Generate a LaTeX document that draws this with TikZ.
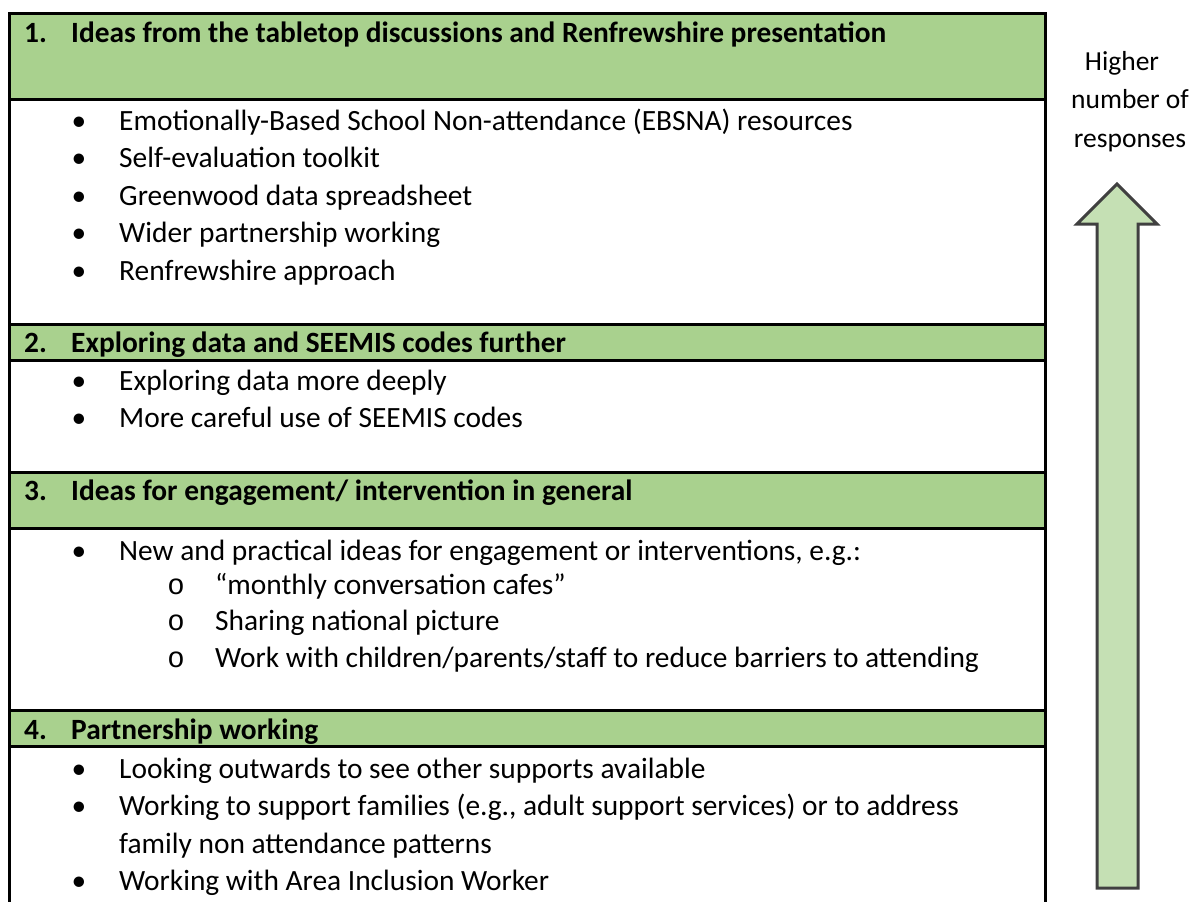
\documentclass[tikz,border=0pt]{standalone}
\usepackage{fontspec}
\setmainfont{Carlito}
\newfontfamily\subbulletfont{Liberation Mono}
\definecolor{hdrgreen}{HTML}{A9D18E}
\definecolor{arrowgreen}{HTML}{C5E0B4}
\definecolor{arrowline}{HTML}{404040}
\begin{document}
\begin{tikzpicture}[x=1pt,y=-1pt,
  txt/.style={anchor=base west, inner sep=0pt, font=\fontsize{29.4}{36}\selectfont},
  hdtxt/.style={anchor=base west, inner sep=0pt, font=\fontsize{29.4}{36}\selectfont\bfseries},
  bul/.style={anchor=base, inner sep=0pt, font=\fontsize{29.4}{36}\selectfont},
  subbul/.style={anchor=base, inner sep=0pt, font=\fontsize{29}{36}\subbulletfont},
  sidetxt/.style={anchor=base, inner sep=0pt, font=\fontsize{27.5}{34}\selectfont},
  hdrfill/.style={fill=hdrgreen},
  rulestyle/.style={line width=3pt, black},
  bigarrow/.style={fill=arrowgreen, draw=arrowline, line width=3pt, line join=miter}]
\useasboundingbox (0,0) rectangle (1189,902);
% header fills
\fill[hdrfill] (9,13) rectangle (1045,99);
\fill[hdrfill] (9,324) rectangle (1045,360);
\fill[hdrfill] (9,472) rectangle (1045,528);
\fill[hdrfill] (9,710) rectangle (1045,746);
% table rules
\draw[rulestyle] (9,905) -- (9,13) -- (1045.5,13) -- (1045.5,905);
\foreach \yy in {99,324,360,472,528,710,746} \draw[rulestyle] (9,\yy) -- (1045.5,\yy);
% section 1
\node[hdtxt] (h1n) at (24,42) {1.};
\node[hdtxt] (h1) at (71,42) {Ideas from the tabletop discussions and Renfrewshire presentation};
\node[bul] (b11) at (79,130) {•};
\node[txt] (t11) at (119,130) {Emotionally-Based School Non-attendance (EBSNA) resources};
\node[bul] (b12) at (79,167.5) {•};
\node[txt] (t12) at (119,167.5) {Self-evaluation toolkit};
\node[bul] (b13) at (79,205) {•};
\node[txt] (t13) at (119,205) {Greenwood data spreadsheet};
\node[bul] (b14) at (79,242.5) {•};
\node[txt] (t14) at (119,242.5) {Wider partnership working};
\node[bul] (b15) at (79,280) {•};
\node[txt] (t15) at (119,280) {Renfrewshire approach};
% section 2
\node[hdtxt] (h2n) at (24,352) {2.};
\node[hdtxt] (h2) at (71,352) {Exploring data and SEEMIS codes further};
\node[bul] (b21) at (79,390) {•};
\node[txt] (t21) at (119,390) {Exploring data more deeply};
\node[bul] (b22) at (79,427.5) {•};
\node[txt] (t22) at (119,427.5) {More careful use of SEEMIS codes};
% section 3
\node[hdtxt] (h3n) at (24,500) {3.};
\node[hdtxt] (h3) at (71,500) {Ideas for engagement/ intervention in general};
\node[bul] (b31) at (79,560) {•};
\node[txt] (t31) at (119,560) {New and practical ideas for engagement or interventions, e.g.:};
\node[subbul] (s31) at (176,594) {o};
\node[txt] (u31) at (215,594) {“monthly conversation cafes”};
\node[subbul] (s32) at (176,630.5) {o};
\node[txt] (u32) at (215,630.5) {Sharing national picture};
\node[subbul] (s33) at (176,667) {o};
\node[txt] (u33) at (215,667) {Work with children/parents/staff to reduce barriers to attending};
% section 4
\node[hdtxt] (h4n) at (24,739) {4.};
\node[hdtxt] (h4) at (71,739) {Partnership working};
\node[bul] (b41) at (79,778) {•};
\node[txt] (t41) at (119,778) {Looking outwards to see other supports available};
\node[bul] (b42) at (79,815.5) {•};
\node[txt] (t42) at (119,815.5) {Working to support families (e.g., adult support services) or to address};
\node[txt] (t43) at (119,853) {family non attendance patterns};
\node[bul] (b44) at (79,890) {•};
\node[txt] (t44) at (119,890) {Working with Area Inclusion Worker};
% side label and arrow
\node[sidetxt] (s1) at (1122,70) {Higher};
\node[sidetxt] (s2) at (1130,108.5) {number of};
\node[sidetxt] (s3) at (1130,147) {responses};
\draw[bigarrow] (1117,184) -- (1157,224) -- (1138,224) -- (1138,888) -- (1097,888) -- (1097,224) -- (1077,224) -- cycle;
\end{tikzpicture}
\end{document}
